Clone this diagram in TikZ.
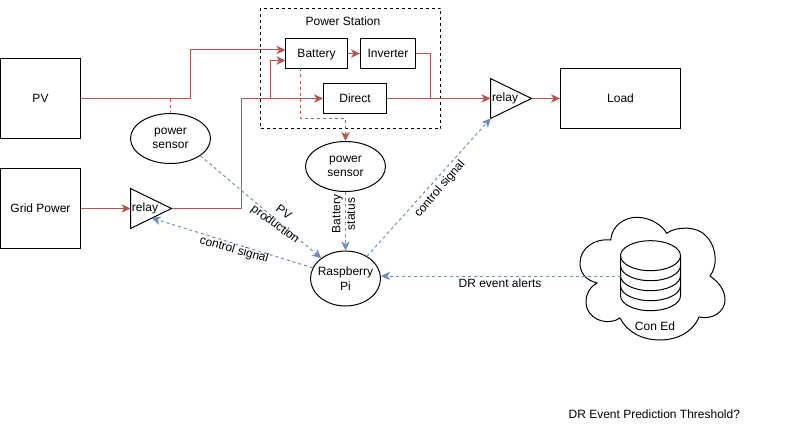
\documentclass[tikz,border=0pt]{standalone}
\usepackage{fontspec}
\setmainfont{Liberation Sans}
\usetikzlibrary{arrows.meta,shapes.geometric}
\definecolor{redl}{HTML}{B85450}
\definecolor{bluel}{HTML}{6C8EBF}
\tikzset{
  x=1pt,y=-1pt,
  txt/.style={font=\fontsize{12}{14.5}\selectfont,align=center,inner sep=0pt,text=black},
  box/.style={draw=black,line width=1pt,minimum width=#1,inner sep=0pt,font=\fontsize{12}{14.5}\selectfont,text height=8.6pt,text depth=-0.6pt},
  elps/.style={ellipse,draw=black,line width=1pt,txt,inner xsep=-12pt},
  tri/.style={draw=black,line width=1pt,line join=miter},
  tipa/.style={-{Stealth[length=9pt,width=8.5pt,inset=2.5pt]}},
  redw/.style={draw=redl,line width=1pt,tipa},
  redn/.style={draw=redl,line width=1pt},
  redd/.style={redw,dash pattern=on 3pt off 3pt},
  redq/.style={redn,dash pattern=on 3pt off 3pt},
  blued/.style={draw=bluel,line width=1pt,dash pattern=on 3pt off 3pt,tipa},
  dbline/.style={draw=black,line width=1pt},
}
\begin{document}
\begin{tikzpicture}
\useasboundingbox (0,0) rectangle (795,428);
% power station frame
\node[draw=black,line width=1pt,dashed,minimum width=180pt,minimum height=120pt,inner sep=0pt] (station) at (350.5,68.5) {};
\node[txt] (stationlabel) at (343,21) {Power Station};
% boxes
\node[box=80pt,minimum height=80pt] (pv) at (40.5,98.5) {PV};
\node[box=80pt,minimum height=80pt] (grid) at (40.5,208.5) {Grid Power};
\node[box=120pt,minimum height=60pt] (load) at (620.5,98.5) {Load};
\node[box=62pt,minimum height=30pt] (battery) at (316.5,53.5) {Battery};
\node[box=55pt,minimum height=30pt] (inverter) at (388,53.5) {Inverter};
\node[box=63pt,minimum height=30pt] (direct) at (355,98.5) {Direct};
% ellipses
\node[elps,minimum width=80pt,minimum height=50pt] (sensorA) at (170.5,138.5) {power\\sensor};
\node[elps,minimum width=80pt,minimum height=50pt] (sensorB) at (345.5,166.5) {power\\sensor};
\node[elps,minimum width=70pt,minimum height=55pt] (pi) at (345.5,278.5) {Raspberry\\Pi};
% relays
\draw[tri] (130.5,188.5) -- (171.5,208.5) -- (130.5,228.5) -- cycle;
\draw[tri] (490.5,78.5) -- (531.5,98.5) -- (490.5,118.5) -- cycle;
\node[txt] (relayA) at (145,208.5) {relay};
\node[txt] (relayB) at (505,98.5) {relay};
\coordinate (relayAin) at (130.5,208.5);
\coordinate (relayAout) at (171.5,208);
\coordinate (relayAlow) at (151.5,218);
\coordinate (relayBin) at (490.5,98.5);
\coordinate (relayBout) at (531.5,98.5);
\coordinate (relayBlow) at (490.7,118.3);
% cloud
\draw[dbline] (610.7,240)
  .. controls (612,225) and (625,217.3) .. (636.7,217.3)
  .. controls (650,217.3) and (662,225) .. (666.7,233.3)
  .. controls (676,226) and (698,226) .. (706,236)
  .. controls (714,243) and (720,262) .. (710,276)
  .. controls (720,283) and (725,291) .. (725,300)
  .. controls (725,312) and (712,320) .. (699,317)
  .. controls (693,332) and (677,340) .. (660,340)
  .. controls (642,340) and (627,332) .. (620,318)
  .. controls (610,325) and (592,322) .. (587,308)
  .. controls (584,298) and (588,288) .. (597,283)
  .. controls (585,280) and (580,272) .. (580,263)
  .. controls (580,248) and (595,238) .. (610.7,240) -- cycle;
% database
\draw[dbline] (620.5,255.7) arc[start angle=180,end angle=540,x radius=30,y radius=15];
\draw[dbline] (620.5,255.7) -- (620.5,295.7) arc[start angle=180,end angle=360,x radius=30,y radius=-15] -- (680.5,255.7);
\foreach \yy in {265.7,275.7,285.7}
  \draw[dbline] (620.5,\yy) arc[start angle=180,end angle=360,x radius=30,y radius=-15];
\coordinate (db) at (620.5,276);
\node[txt] (coned) at (655,326) {Con Ed};
% red connectors
\coordinate (batA) at (285.5,50);
\coordinate (batB) at (285.5,60.5);
\coordinate (bendA) at (190.5,98.5);
\coordinate (bendB) at (241,208);
\coordinate (branch) at (270.5,98.5);
\coordinate (join) at (430.5,98.5);
\coordinate (tapA) at (170.5,98.5);
\coordinate (batOut) at (300.5,68.5);
\coordinate (batBend) at (300.5,118.3);
\draw[redw] (pv.east) -- (bendA) |- (batA);
\draw[redw] (grid.east) -- (relayAin);
\draw[redw] (relayAout) -- (bendB) |- (direct.west);
\draw[redw] (branch) |- (batB);
\draw[redw] (battery.east) -- (inverter.west);
\draw[redn] (inverter.east) -| (join);
\draw[redw] (direct.east) -- (relayBin);
\draw[redw] (relayBout) -- (load.west);
\draw[redq] (tapA) -- (sensorA.north);
\draw[redd] (batOut) -- (batBend) -| (sensorB.north);
% blue connectors
\draw[blued] (sensorA.-30.2) -- (pi.140.5);
\draw[blued] (sensorB.south) -- (pi.north);
\draw[blued] (pi.162.7) -- (relayAlow);
\draw[blued] (pi.46.7) -- (relayBlow);
\draw[blued] (db) -- (db -| pi.east);
% connector labels
\node[txt,rotate=-36] (lblpv) at (279,219) {PV\\production};
\node[txt,rotate=90] (lblbat) at (343.5,214) {Battery\\status};
\node[txt,rotate=-15.6] (lblctlA) at (234,250) {control signal};
\node[txt,rotate=49.5] (lblctlB) at (440,189) {control signal};
\node[txt] (lbldr) at (500,283) {DR event alerts};
\node[txt] (question) at (654.3,414) {DR Event Prediction Threshold?};
\end{tikzpicture}
\end{document}
